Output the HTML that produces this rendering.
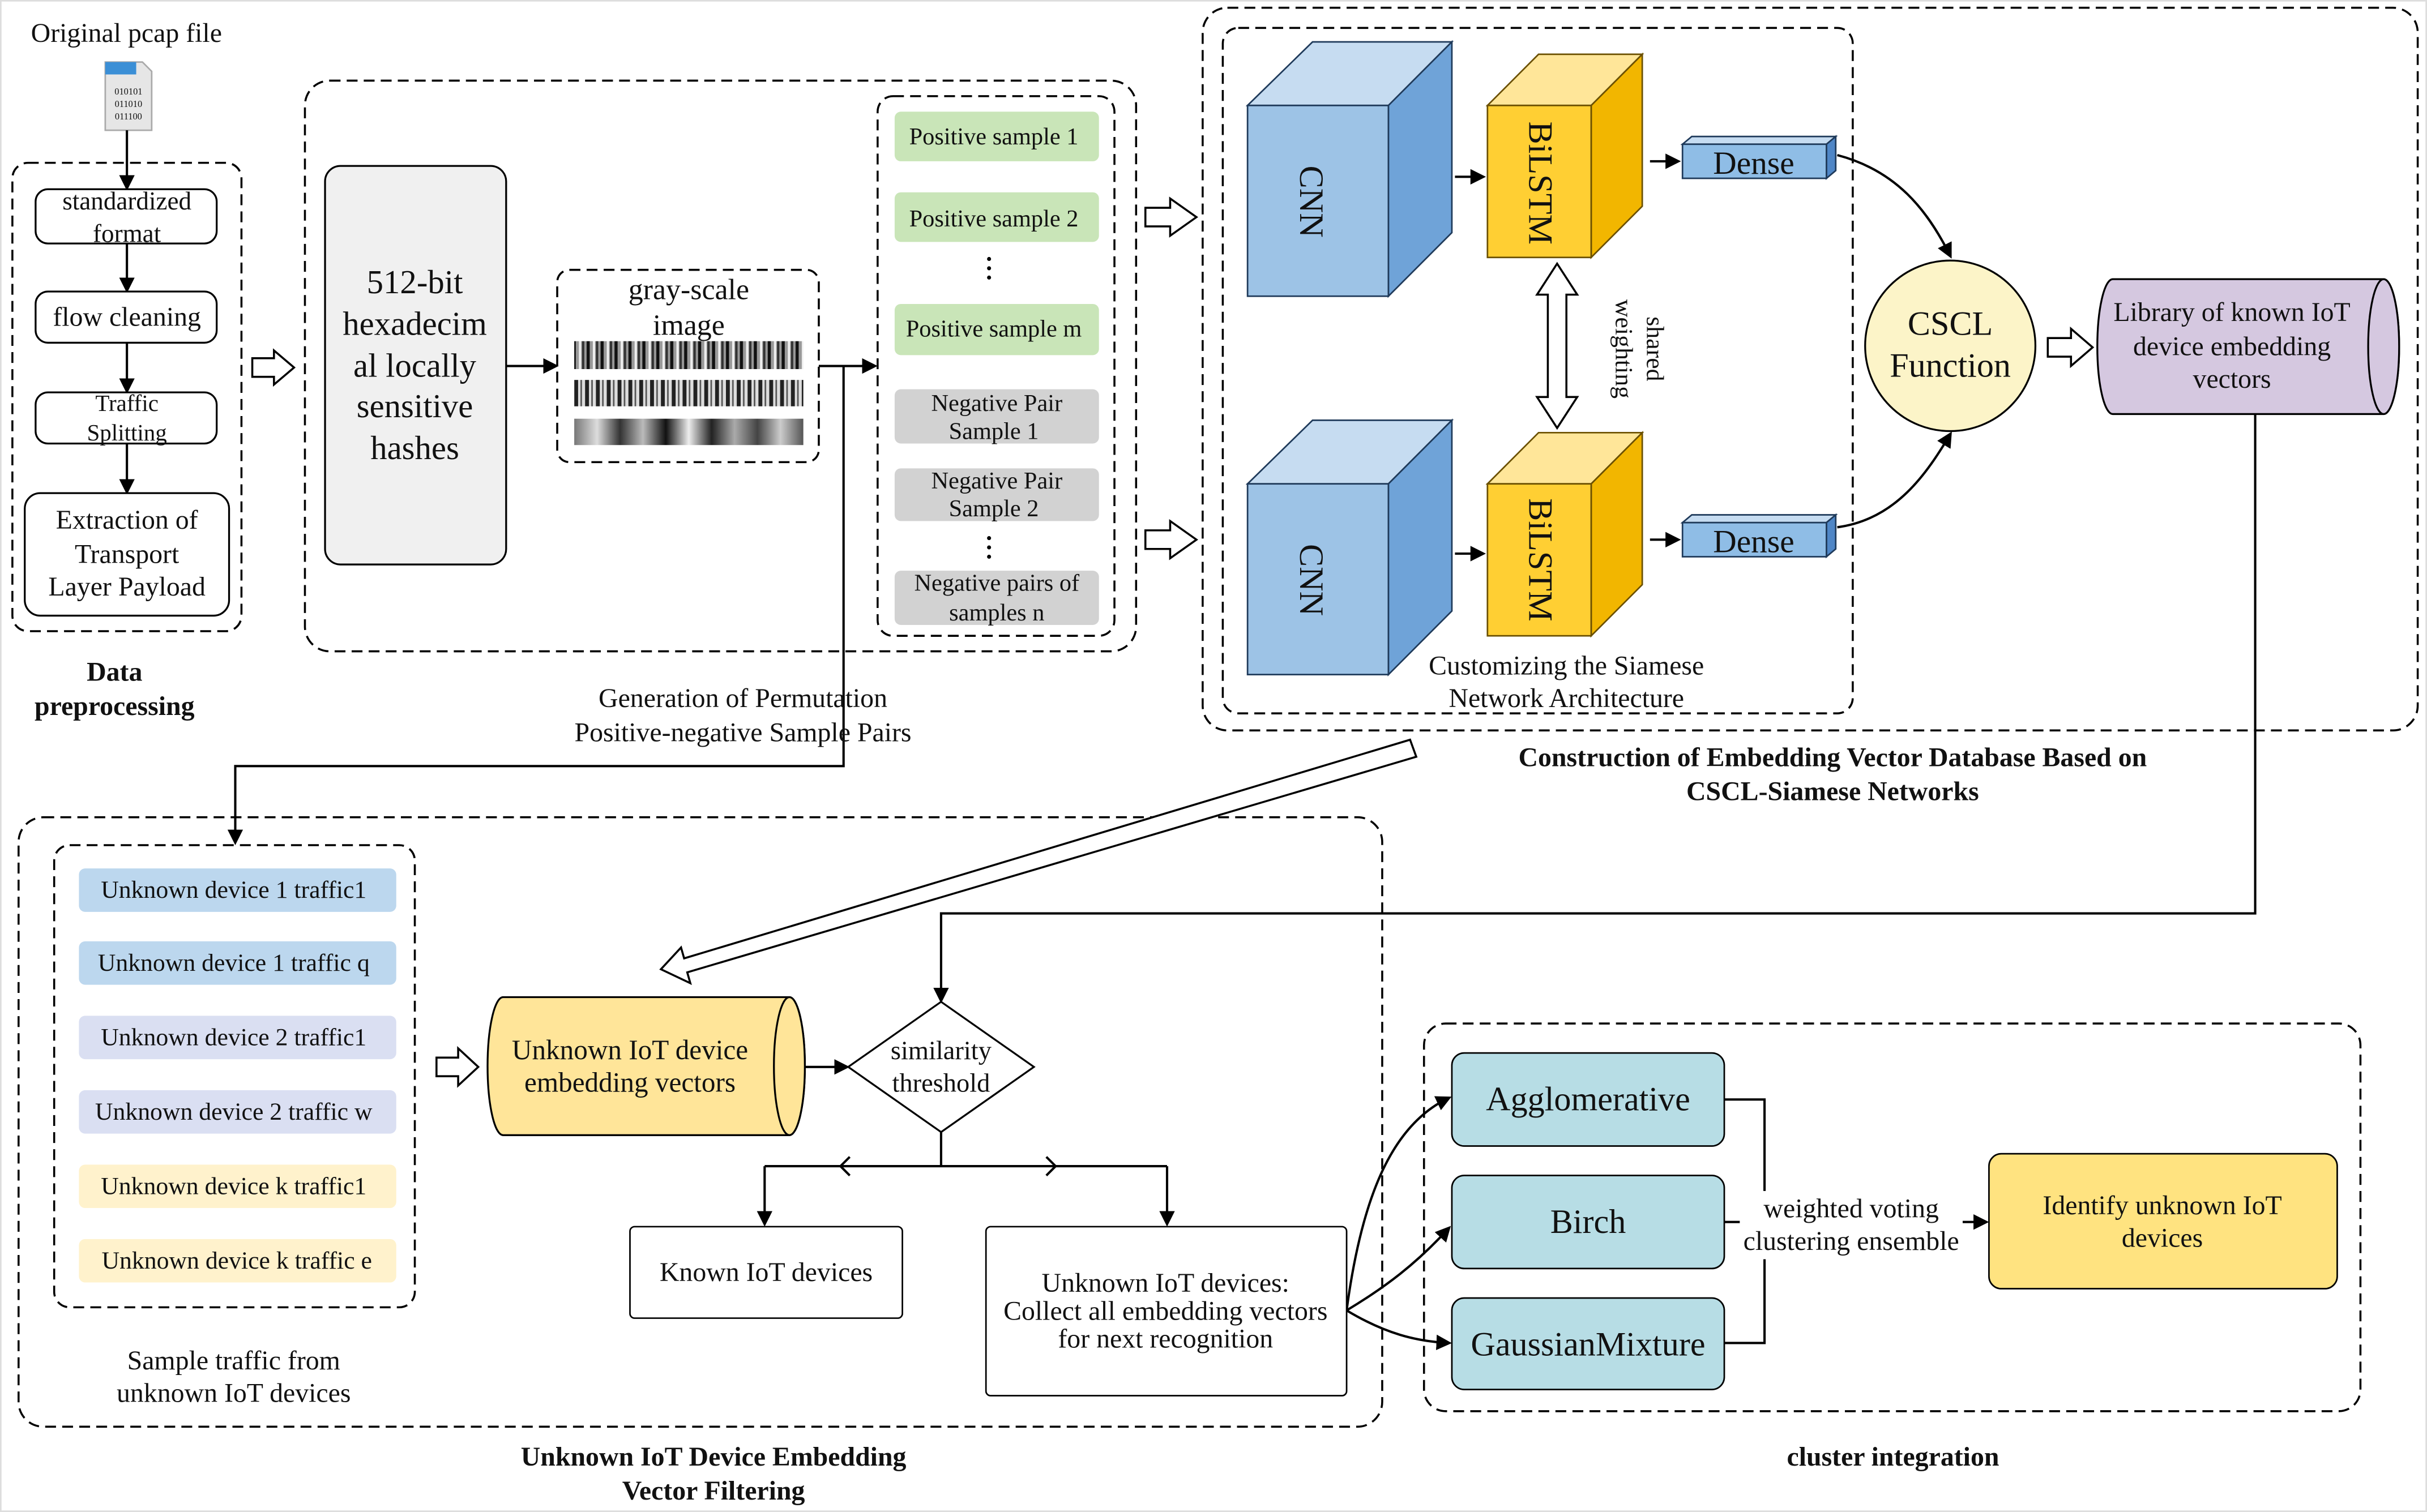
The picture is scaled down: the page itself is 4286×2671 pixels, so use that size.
<!DOCTYPE html>
<html><head><meta charset="utf-8"><style>
html,body{margin:0;padding:0;background:#fff;}
svg{display:block;}
text{font-family:"Liberation Serif",serif;fill:#111;}
</style></head><body>
<svg width="4286" height="2671" viewBox="0 0 1568 975" preserveAspectRatio="none" xmlns="http://www.w3.org/2000/svg">
<defs>
<marker id="ah" markerWidth="10" markerHeight="10" refX="8" refY="5" orient="auto" markerUnits="userSpaceOnUse"><path d="M0,0 L10,5 L0,10 z" fill="#000"/></marker>
</defs>
<rect x="0.5" y="0.5" width="1567" height="974" fill="#fff" stroke="#ddd"/>
<g fill="none" stroke="#000" stroke-width="1.3" stroke-dasharray="7,4">
<rect x="8" y="105" width="148" height="302" rx="10"/>
<rect x="197" y="52" width="537" height="368" rx="16"/>
<rect x="360" y="174" width="169" height="124" rx="8"/>
<rect x="567" y="62" width="153" height="348" rx="10"/>
<rect x="777" y="5" width="785" height="466" rx="16"/>
<rect x="790" y="18" width="407" height="442" rx="10"/>
<rect x="12" y="527" width="881" height="393" rx="16"/>
<rect x="35" y="545" width="233" height="298" rx="10"/>
<rect x="920" y="660" width="605" height="250" rx="14"/>
</g>
<text x="20" y="27" font-size="17.5">Original pcap file</text>
<path d="M68,40 L92,40 L98,46 L98,84 L68,84 z" fill="#e6e6e6" stroke="#aaa"/>
<rect x="68" y="40" width="20" height="8" fill="#3b8fd6"/>
<text x="83" y="61" font-size="6" text-anchor="middle" font-family="Liberation Mono">010101</text>
<text x="83" y="69" font-size="6" text-anchor="middle" font-family="Liberation Mono">011010</text>
<text x="83" y="77" font-size="6" text-anchor="middle" font-family="Liberation Mono">011100</text>
<g stroke="#000" stroke-width="1.5" fill="none" marker-end="url(#ah)">
<line x1="82" y1="84" x2="82" y2="121"/>
<line x1="82" y1="157" x2="82" y2="187"/>
<line x1="82" y1="221" x2="82" y2="252"/>
<line x1="82" y1="286" x2="82" y2="317"/>
<line x1="327" y1="236" x2="359" y2="236"/>
<line x1="529" y1="236" x2="565" y2="236"/>
<polyline points="545,236 545,494 152,494 152,543"/>
<line x1="940" y1="114" x2="958" y2="114"/>
<line x1="940" y1="357" x2="958" y2="357"/>
<line x1="1066" y1="104" x2="1084" y2="104"/>
<line x1="1066" y1="348" x2="1084" y2="348"/>
<path d="M1187,100 C1225,110 1245,135 1260,165"/>
<path d="M1187,340 C1225,335 1245,305 1260,280"/>
<polyline points="1457,267 1457,589 608,589 608,645"/>
<line x1="520" y1="688" x2="547" y2="688"/>
<line x1="494" y1="752" x2="494" y2="789"/>
<line x1="754" y1="752" x2="754" y2="789"/>
<path d="M870,845 C880,770 900,725 936,708"/>
<path d="M870,845 C895,830 915,815 936,792"/>
<path d="M870,845 C895,860 915,865 936,866"/>
<line x1="1268" y1="788" x2="1283" y2="788"/>
</g>
<g stroke="#000" stroke-width="1.5" fill="none">
<line x1="608" y1="730" x2="608" y2="752"/>
<line x1="494" y1="752" x2="754" y2="752"/>
<polyline points="549,746 543,752 549,758"/>
<polyline points="676,746 682,752 676,758"/>
<polyline points="1114,709 1140,709 1140,866 1114,866"/>
<line x1="1114" y1="788" x2="1128" y2="788"/>
</g>
<g fill="#fff" stroke="#000" stroke-width="1.2">
<rect x="23" y="122" width="117" height="35" rx="8"/>
<rect x="23" y="188" width="117" height="33" rx="8"/>
<rect x="23" y="253" width="117" height="33" rx="8"/>
<rect x="16" y="318" width="132" height="79" rx="10"/>
</g>
<text font-size="16.5" text-anchor="middle"><tspan x="82" y="135">standardized</tspan><tspan x="82" y="156">format</tspan></text>
<text x="82" y="210" font-size="17.5" text-anchor="middle">flow cleaning</text>
<text font-size="15" text-anchor="middle"><tspan x="82" y="265">Traffic</tspan><tspan x="82" y="284">Splitting</tspan></text>
<text font-size="17.5" text-anchor="middle"><tspan x="82" y="341">Extraction of</tspan><tspan x="82" y="363">Transport</tspan><tspan x="82" y="384">Layer Payload</tspan></text>
<text font-size="17.5" font-weight="bold" text-anchor="middle"><tspan x="74" y="439">Data</tspan><tspan x="74" y="461">preprocessing</tspan></text>
<g fill="#fff" stroke="#000" stroke-width="1.3">
<path d="M163,231 L177,231 L177,226 L190,237 L177,248 L177,243 L163,243 z"/>
<path d="M740,134 L756,134 L756,128 L773,140 L756,152 L756,146 L740,146 z"/>
<path d="M740,342 L756,342 L756,336 L773,348 L756,360 L756,354 L740,354 z"/>
<path d="M1323,218 L1338,218 L1338,212 L1352,224 L1338,236 L1338,230 L1323,230 z"/>
<path d="M282,682 L296,682 L296,676 L309,688 L296,700 L296,694 L282,694 z"/>
<path d="M1006,170 L993,190 L1000,190 L1000,256 L993,256 L1006,276 L1019,256 L1012,256 L1012,190 L1019,190 z"/>
<path d="M911,477 L915,488 L444,627 L446,634 L427,625 L440,611 L442,618 z"/>
</g>
<rect x="210" y="107" width="117" height="257" rx="10" fill="#f0f0f0" stroke="#000" stroke-width="1.2"/>
<text font-size="21.5" text-anchor="middle"><tspan x="268" y="189">512-bit</tspan><tspan x="268" y="216">hexadecim</tspan><tspan x="268" y="243">al locally</tspan><tspan x="268" y="269">sensitive</tspan><tspan x="268" y="296">hashes</tspan></text>
<text font-size="19" text-anchor="middle"><tspan x="445" y="193">gray-scale</tspan><tspan x="445" y="216">image</tspan></text>
<defs>
<linearGradient id="bc1" x1="0" x2="1"><stop offset="0" stop-color="#777"/><stop offset="0.1" stop-color="#ddd"/><stop offset="0.2" stop-color="#333"/><stop offset="0.3" stop-color="#bbb"/><stop offset="0.4" stop-color="#111"/><stop offset="0.5" stop-color="#eee"/><stop offset="0.6" stop-color="#222"/><stop offset="0.7" stop-color="#aaa"/><stop offset="0.8" stop-color="#444"/><stop offset="0.9" stop-color="#ccc"/><stop offset="1" stop-color="#555"/></linearGradient>
<pattern id="bars" width="9" height="20" patternUnits="userSpaceOnUse"><rect width="9" height="20" fill="#999"/><rect x="1" width="2" height="20" fill="#111"/><rect x="5" width="1.5" height="20" fill="#eee"/><rect x="7" width="1.5" height="20" fill="#333"/></pattern>
<pattern id="bars2" width="7" height="20" patternUnits="userSpaceOnUse"><rect width="7" height="20" fill="#ddd"/><rect x="0" width="2.5" height="20" fill="#222"/><rect x="4" width="1" height="20" fill="#555"/></pattern>
</defs>
<rect x="371" y="220" width="148" height="18" fill="url(#bars)"/>
<rect x="371" y="245" width="148" height="17" fill="url(#bars2)"/>
<rect x="371" y="270" width="148" height="17" fill="url(#bc1)"/>
<g stroke="none">
<rect x="578" y="72" width="132" height="32" rx="4" fill="#c9e5b8"/>
<rect x="578" y="124" width="132" height="32" rx="4" fill="#c9e5b8"/>
<rect x="578" y="196" width="132" height="33" rx="4" fill="#c9e5b8"/>
<rect x="578" y="251" width="132" height="35" rx="4" fill="#d2d2d2"/>
<rect x="578" y="302" width="132" height="34" rx="4" fill="#d2d2d2"/>
<rect x="578" y="368" width="132" height="35" rx="4" fill="#d2d2d2"/>
</g>
<text font-size="15.5" text-anchor="middle">
<tspan x="644" y="93">Positive sample 1</tspan>
<tspan x="644" y="146">Positive sample 2</tspan>
<tspan x="644" y="217">Positive sample m</tspan>
<tspan x="644" y="265">Negative Pair</tspan><tspan x="644" y="283">Sample 1</tspan>
<tspan x="644" y="315">Negative Pair</tspan><tspan x="644" y="333">Sample 2</tspan>
<tspan x="644" y="381">Negative pairs of</tspan><tspan x="644" y="400">samples n</tspan>
</text>
<g fill="#000"><circle cx="639" cy="167" r="1.3"/><circle cx="639" cy="173" r="1.3"/><circle cx="639" cy="179" r="1.3"/>
<circle cx="639" cy="347" r="1.3"/><circle cx="639" cy="353" r="1.3"/><circle cx="639" cy="359" r="1.3"/></g>
<text font-size="17.5" text-anchor="middle"><tspan x="480" y="456">Generation of Permutation</tspan><tspan x="480" y="478">Positive-negative Sample Pairs</tspan></text>
<g stroke="#1f3a5a" stroke-width="1">
<polygon points="806,68 848,27 938,27 897,68" fill="#c6dcf1"/>
<polygon points="897,68 938,27 938,150 897,191" fill="#6fa3d8"/>
<rect x="806" y="68" width="91" height="123" fill="#9dc3e6"/>
<polygon points="806,312 848,271 938,271 897,312" fill="#c6dcf1"/>
<polygon points="897,312 938,271 938,394 897,435" fill="#6fa3d8"/>
<rect x="806" y="312" width="91" height="123" fill="#9dc3e6"/>
</g>
<g stroke="#6b5000" stroke-width="1">
<polygon points="961,68 994,35 1061,35 1028,68" fill="#ffe699"/>
<polygon points="1028,68 1061,35 1061,133 1028,166" fill="#f2b600"/>
<rect x="961" y="68" width="67" height="98" fill="#ffcf33"/>
<polygon points="961,312 994,279 1061,279 1028,312" fill="#ffe699"/>
<polygon points="1028,312 1061,279 1061,377 1028,410" fill="#f2b600"/>
<rect x="961" y="312" width="67" height="98" fill="#ffcf33"/>
</g>
<text font-size="22" text-anchor="middle" transform="translate(840,130) rotate(90)">CNN</text>
<text font-size="22" text-anchor="middle" transform="translate(840,374) rotate(90)">CNN</text>
<text font-size="22" text-anchor="middle" transform="translate(988,118) rotate(90)">BiLSTM</text>
<text font-size="22" text-anchor="middle" transform="translate(988,361) rotate(90)">BiLSTM</text>
<text font-size="16" text-anchor="middle" transform="translate(1064,225) rotate(90)"><tspan x="0" y="0">shared</tspan><tspan x="0" y="20">weighting</tspan></text>
<g stroke="#1f3a5a" stroke-width="1">
<polygon points="1087,93 1093,88 1186,88 1180,93" fill="#c6dcf1"/>
<polygon points="1180,93 1186,88 1186,110 1180,115" fill="#4f86c6"/>
<rect x="1087" y="93" width="93" height="22" fill="#8fbde6"/>
<polygon points="1087,337 1093,332 1186,332 1180,337" fill="#c6dcf1"/>
<polygon points="1180,337 1186,332 1186,354 1180,359" fill="#4f86c6"/>
<rect x="1087" y="337" width="93" height="22" fill="#8fbde6"/>
</g>
<text x="1133" y="112" font-size="21" text-anchor="middle">Dense</text>
<text x="1133" y="356" font-size="21" text-anchor="middle">Dense</text>
<circle cx="1260" cy="223" r="55" fill="#fcf4c8" stroke="#000" stroke-width="1.2"/>
<text font-size="22" text-anchor="middle"><tspan x="1260" y="216">CSCL</tspan><tspan x="1260" y="243">Function</tspan></text>
<path d="M1365,180 L1540,180 A10,43.5 0 0 1 1540,267 L1365,267 A10,43.5 0 0 1 1365,180 z" fill="#d5c8e0" stroke="#000" stroke-width="1.2"/>
<ellipse cx="1540" cy="223.5" rx="10" ry="43.5" fill="#d5c8e0" stroke="#000" stroke-width="1.2"/>
<text font-size="17.5" text-anchor="middle"><tspan x="1442" y="207">Library of known IoT</tspan><tspan x="1442" y="229">device embedding</tspan><tspan x="1442" y="250">vectors</tspan></text>
<text font-size="17.5" text-anchor="middle"><tspan x="1012" y="435">Customizing the Siamese</tspan><tspan x="1012" y="456">Network Architecture</tspan></text>
<text font-size="17.5" font-weight="bold" text-anchor="middle"><tspan x="1184" y="494">Construction of Embedding Vector Database Based on</tspan><tspan x="1184" y="516">CSCL-Siamese Networks</tspan></text>
<g stroke="none">
<rect x="51" y="560" width="205" height="28" rx="4" fill="#bcd7ee"/>
<rect x="51" y="607" width="205" height="28" rx="4" fill="#bcd7ee"/>
<rect x="51" y="655" width="205" height="28" rx="4" fill="#dadff2"/>
<rect x="51" y="703" width="205" height="28" rx="4" fill="#dadff2"/>
<rect x="51" y="751" width="205" height="28" rx="4" fill="#fff2cc"/>
<rect x="51" y="799" width="205" height="28" rx="4" fill="#fff2cc"/>
</g>
<text font-size="16" text-anchor="middle">
<tspan x="153" y="579">Unknown device 1 traffic1</tspan>
<tspan x="153" y="626">Unknown device 1 traffic q</tspan>
<tspan x="153" y="674">Unknown device 2 traffic1</tspan>
<tspan x="153" y="722">Unknown device 2 traffic w</tspan>
<tspan x="153" y="770">Unknown device k traffic1</tspan>
<tspan x="153" y="818">Unknown device k traffic e</tspan>
</text>
<text font-size="17.5" text-anchor="middle"><tspan x="151" y="883">Sample traffic from</tspan><tspan x="151" y="904">unknown IoT devices</tspan></text>
<path d="M325,643 L510,643 A10,44.5 0 0 1 510,732 L325,732 A10,44.5 0 0 1 325,643 z" fill="#ffe599" stroke="#000" stroke-width="1.2"/>
<ellipse cx="510" cy="687.5" rx="10" ry="44.5" fill="#ffe599" stroke="#000" stroke-width="1.2"/>
<text font-size="18" text-anchor="middle"><tspan x="407" y="683">Unknown IoT device</tspan><tspan x="407" y="704">embedding vectors</tspan></text>
<polygon points="548,688 608,646 668,688 608,730" fill="#fff" stroke="#000" stroke-width="1.2"/>
<text font-size="17" text-anchor="middle"><tspan x="608" y="683">similarity</tspan><tspan x="608" y="704">threshold</tspan></text>
<rect x="407" y="791" width="176" height="59" rx="3" fill="#fff" stroke="#000" stroke-width="1"/>
<text x="495" y="826" font-size="17.5" text-anchor="middle">Known IoT devices</text>
<rect x="637" y="791" width="233" height="109" rx="3" fill="#fff" stroke="#000" stroke-width="1"/>
<text font-size="17.5" text-anchor="middle"><tspan x="753" y="833">Unknown IoT devices:</tspan><tspan x="753" y="851">Collect all embedding vectors</tspan><tspan x="753" y="869">for next recognition</tspan></text>
<text font-size="17.5" font-weight="bold" text-anchor="middle"><tspan x="461" y="945">Unknown IoT Device Embedding</tspan><tspan x="461" y="967">Vector Filtering</tspan></text>
<g fill="#b7dde5" stroke="#000" stroke-width="1">
<rect x="938" y="679" width="176" height="60" rx="8"/>
<rect x="938" y="758" width="176" height="60" rx="8"/>
<rect x="938" y="837" width="176" height="59" rx="8"/>
</g>
<text font-size="22" text-anchor="middle"><tspan x="1026" y="716">Agglomerative</tspan><tspan x="1026" y="795">Birch</tspan><tspan x="1026" y="874">GaussianMixture</tspan></text>
<rect x="1124" y="768" width="144" height="44" fill="#fff"/>
<text font-size="17.5" text-anchor="middle"><tspan x="1196" y="785">weighted voting</tspan><tspan x="1196" y="806">clustering ensemble</tspan></text>
<rect x="1285" y="744" width="225" height="87" rx="8" fill="#ffe380" stroke="#000" stroke-width="1"/>
<text font-size="17.5" text-anchor="middle"><tspan x="1397" y="783">Identify unknown IoT</tspan><tspan x="1397" y="804">devices</tspan></text>
<text x="1223" y="945" font-size="17.5" font-weight="bold" text-anchor="middle">cluster integration</text>
</svg>
</body></html>
